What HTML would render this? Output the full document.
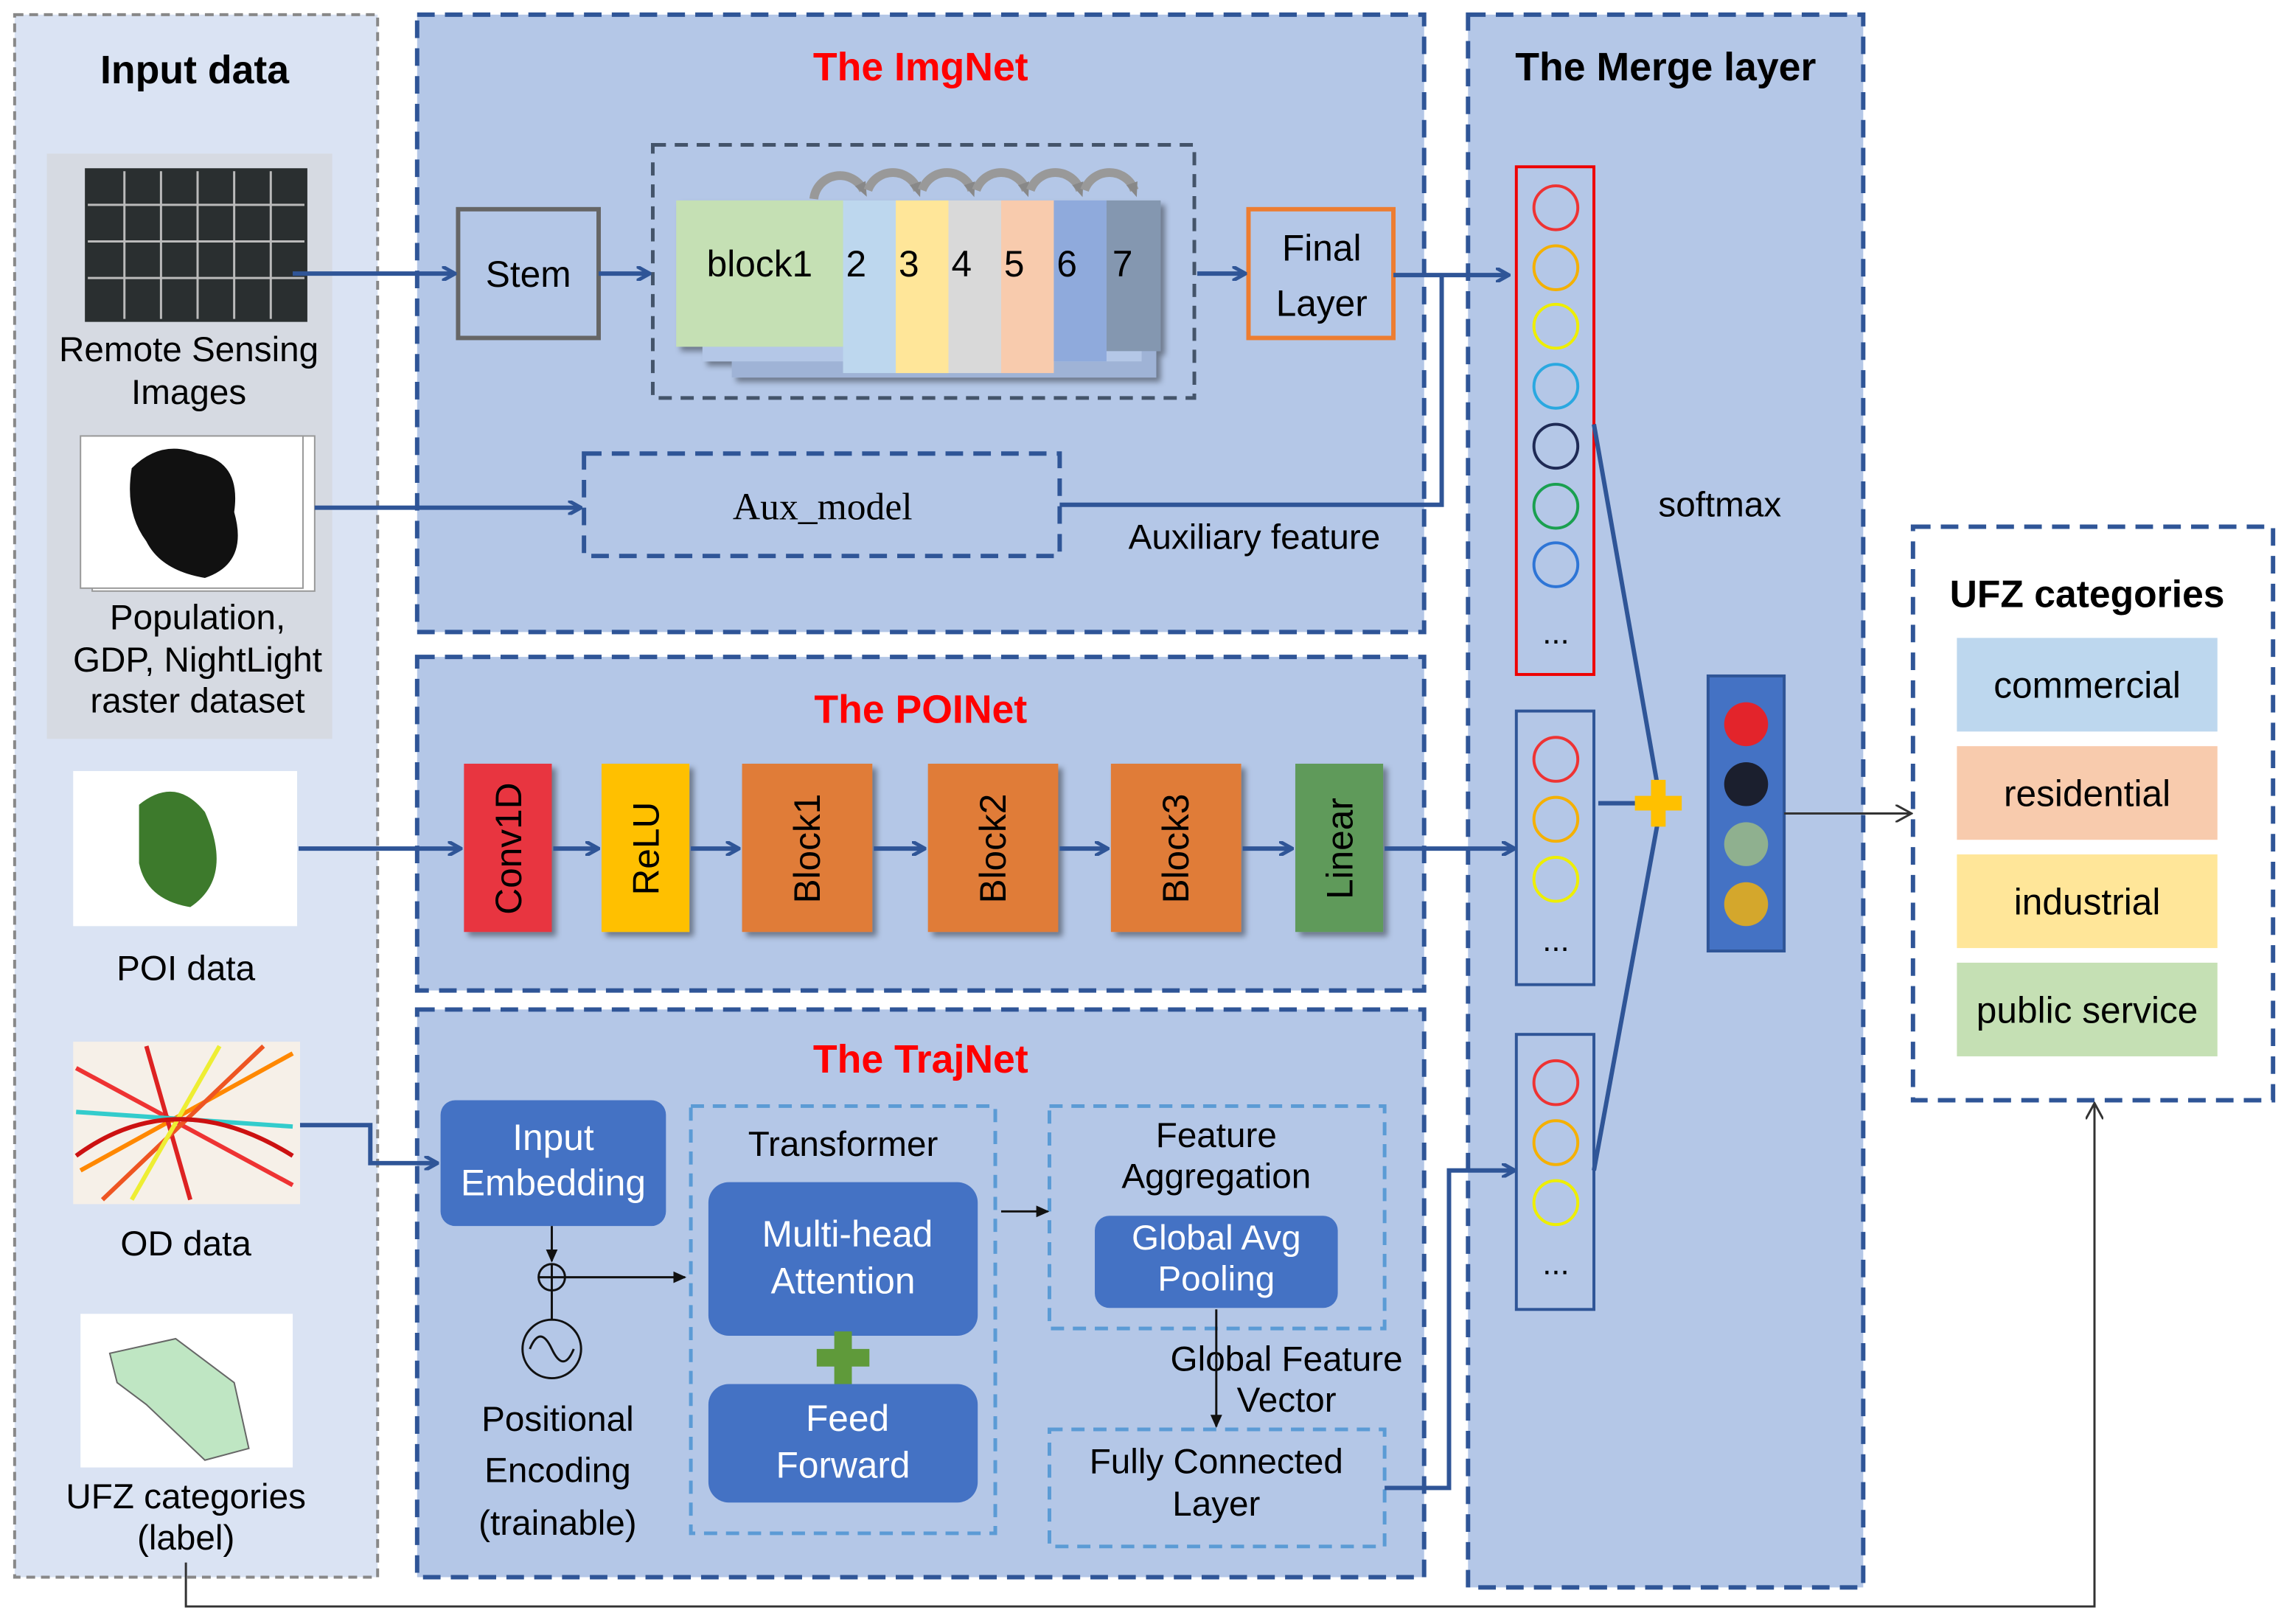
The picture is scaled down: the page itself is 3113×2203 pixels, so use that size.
<!DOCTYPE html>
<html><head><meta charset="utf-8"><style>html,body{margin:0;padding:0;background:#fff}svg{display:block}</style></head><body>
<svg width="3113" height="2203" viewBox="0 0 1568 1110" preserveAspectRatio="none" xmlns="http://www.w3.org/2000/svg" font-family="'Liberation Sans', sans-serif">
<defs>
<marker id="ab" markerWidth="10" markerHeight="10" refX="8" refY="5" orient="auto" markerUnits="userSpaceOnUse"><path d="M0,0 L9,5 L0,10" fill="none" stroke="#2f5597" stroke-width="2.5"/></marker>
<marker id="ak" markerWidth="10" markerHeight="10" refX="8" refY="5" orient="auto" markerUnits="userSpaceOnUse"><path d="M0,1 L9,5 L0,9 Z" fill="#111"/></marker>
<marker id="ao" markerWidth="12" markerHeight="12" refX="10" refY="6" orient="auto" markerUnits="userSpaceOnUse"><path d="M0,0 L11,6 L0,12" fill="none" stroke="#333" stroke-width="1.5"/></marker>
<marker id="ag" markerWidth="10" markerHeight="10" refX="5" refY="5" orient="auto" markerUnits="userSpaceOnUse"><path d="M0,1 L10,5 L0,9 Z" fill="#888"/></marker>
<filter id="sh"><feDropShadow dx="3" dy="3" stdDeviation="2" flood-color="#000" flood-opacity="0.4"/></filter>
</defs>
<rect width="1568" height="1110" fill="#fff"/>
<!-- Input data panel -->
<rect x="10" y="10" width="248" height="1068" fill="#dae3f3" stroke="#888" stroke-width="2" stroke-dasharray="6,4"/>
<text x="133" y="57" font-size="27" font-weight="bold" text-anchor="middle">Input data</text>
<rect x="32" y="105" width="195" height="400" fill="#d6dae2"/>
<rect x="58" y="115" width="152" height="105" fill="#2a2f30"/>
<g stroke="#bbb" stroke-width="1.5" fill="none"><path d="M60,140H208M60,165H208M60,190H208M85,117V218M110,117V218M135,117V218M160,117V218M185,117V218"/></g>
<text x="129" y="247" font-size="24" text-anchor="middle">Remote Sensing</text>
<text x="129" y="276" font-size="24" text-anchor="middle">Images</text>
<rect x="63" y="298" width="152" height="106" fill="#fff" stroke="#999"/>
<rect x="55" y="298" width="152" height="104" fill="#fff" stroke="#999"/>
<path d="M90,320 Q110,300 135,310 Q165,315 160,350 Q170,385 140,395 Q110,390 100,370 Q85,350 90,320Z" fill="#111"/>
<text x="135" y="430" font-size="24" text-anchor="middle">Population,</text>
<text x="135" y="459" font-size="24" text-anchor="middle">GDP, NightLight</text>
<text x="135" y="487" font-size="24" text-anchor="middle">raster dataset</text>
<rect x="50" y="527" width="153" height="106" fill="#fff"/>
<path d="M95,550 Q120,530 140,555 Q160,600 130,620 Q100,615 95,590Z" fill="#3d7a2c"/>
<text x="127" y="670" font-size="24" text-anchor="middle">POI data</text>
<rect x="50" y="712" width="155" height="111" fill="#f6f0e8"/>
<g stroke-width="3" fill="none"><path d="M52,730 L200,810" stroke="#e33"/><path d="M55,800 L200,720" stroke="#f80"/><path d="M100,715 L130,820" stroke="#d22"/><path d="M52,760 L200,770" stroke="#3cc"/><path d="M70,820 L180,715" stroke="#e52"/><path d="M150,715 L90,820" stroke="#ee3"/><path d="M52,790 Q120,740 200,790" stroke="#c11"/></g>
<text x="127" y="858" font-size="24" text-anchor="middle">OD data</text>
<rect x="55" y="898" width="145" height="105" fill="#fff"/>
<path d="M75,925 L120,915 L160,945 L170,990 L140,998 L100,960 L80,945Z" fill="#bfe6c3" stroke="#666"/>
<text x="127" y="1031" font-size="24" text-anchor="middle">UFZ categories</text>
<text x="127" y="1059" font-size="24" text-anchor="middle">(label)</text>

<!-- ImgNet -->
<rect x="285" y="10" width="688" height="422" fill="#b4c7e7" stroke="#2f5597" stroke-width="3" stroke-dasharray="12,7"/>
<text x="629" y="55" font-size="27" font-weight="bold" fill="#f00" text-anchor="middle">The ImgNet</text>
<rect x="313" y="143" width="96" height="88" fill="none" stroke="#666" stroke-width="3"/>
<text x="361" y="196" font-size="25" text-anchor="middle">Stem</text>
<rect x="446" y="99" width="370" height="173" fill="none" stroke="#44546a" stroke-width="2.5" stroke-dasharray="9,6"/>
<g filter="url(#sh)">
<rect x="500" y="148" width="290" height="110" fill="#9fb3d6"/>
<rect x="480" y="142" width="300" height="105" fill="#b4c7e7"/>
<rect x="576" y="137" width="36" height="118" fill="#bdd7ee"/>
<rect x="612" y="137" width="36" height="118" fill="#ffe699"/>
<rect x="648" y="137" width="36" height="118" fill="#d9d9d9"/>
<rect x="684" y="137" width="36" height="118" fill="#f8cbad"/>
<rect x="720" y="137" width="36" height="110" fill="#8faadc"/>
<rect x="756" y="137" width="37" height="103" fill="#8497b0"/>
<rect x="462" y="137" width="114" height="100" fill="#c5e0b4"/>
</g>
<text x="519" y="189" font-size="25" text-anchor="middle">block1</text>
<g font-size="25"><text x="578" y="189">2</text><text x="614" y="189">3</text><text x="650" y="189">4</text><text x="686" y="189">5</text><text x="722" y="189">6</text><text x="760" y="189">7</text></g>
<g fill="none" stroke="#999" stroke-width="6" marker-end="url(#ag)"><path d="M556,136 A18,18 0 0 1 590,130"/><path d="M593,130 A18,18 0 0 1 627,130"/><path d="M630,130 A18,18 0 0 1 664,130"/><path d="M667,130 A18,18 0 0 1 701,130"/><path d="M704,130 A18,18 0 0 1 738,130"/><path d="M741,130 A18,18 0 0 1 775,130"/></g>
<rect x="853" y="143" width="99" height="88" fill="none" stroke="#ed7d31" stroke-width="3"/>
<text x="903" y="178" font-size="25" text-anchor="middle">Final</text>
<text x="903" y="216" font-size="25" text-anchor="middle">Layer</text>
<rect x="399" y="310" width="325" height="70" fill="none" stroke="#2f5597" stroke-width="3" stroke-dasharray="12,7"/>
<text x="562" y="355" font-size="26" font-family="'Liberation Serif', serif" text-anchor="middle">Aux_model</text>
<text x="857" y="375" font-size="24" text-anchor="middle">Auxiliary feature</text>
<g stroke="#2f5597" stroke-width="3" fill="none">
<path d="M200,187 H310" marker-end="url(#ab)"/>
<path d="M409,187 H443" marker-end="url(#ab)"/>
<path d="M818,187 H850" marker-end="url(#ab)"/>
<path d="M215,347 H396" marker-end="url(#ab)"/>
<path d="M724,345 H985 V188"/>
</g>

<!-- POINet -->
<rect x="285" y="449" width="688" height="228" fill="#b4c7e7" stroke="#2f5597" stroke-width="3" stroke-dasharray="12,7"/>
<text x="629" y="494" font-size="27" font-weight="bold" fill="#f00" text-anchor="middle">The POINet</text>
<g filter="url(#sh)">
<rect x="317" y="522" width="60" height="115" fill="#e8363f"/>
<rect x="411" y="522" width="60" height="115" fill="#ffc000"/>
<rect x="507" y="522" width="89" height="115" fill="#e07b39"/>
<rect x="634" y="522" width="89" height="115" fill="#e07b39"/>
<rect x="759" y="522" width="89" height="115" fill="#e07b39"/>
<rect x="885" y="522" width="60" height="115" fill="#5f9a5a"/>
</g>
<g font-size="25" text-anchor="middle">
<text transform="translate(356,580) rotate(-90)">Conv1D</text>
<text transform="translate(450,580) rotate(-90)">ReLU</text>
<text transform="translate(560,580) rotate(-90)">Block1</text>
<text transform="translate(687,580) rotate(-90)">Block2</text>
<text transform="translate(812,580) rotate(-90)">Block3</text>
<text transform="translate(924,580) rotate(-90)">Linear</text>
</g>
<g stroke="#2f5597" stroke-width="3" fill="none">
<path d="M204,580 H314" marker-end="url(#ab)"/>
<path d="M378,580 H408" marker-end="url(#ab)"/>
<path d="M472,580 H504" marker-end="url(#ab)"/>
<path d="M597,580 H631" marker-end="url(#ab)"/>
<path d="M724,580 H756" marker-end="url(#ab)"/>
<path d="M849,580 H882" marker-end="url(#ab)"/>
</g>

<!-- TrajNet -->
<rect x="285" y="690" width="688" height="388" fill="#b4c7e7" stroke="#2f5597" stroke-width="3" stroke-dasharray="12,7"/>
<text x="629" y="733" font-size="27" font-weight="bold" fill="#f00" text-anchor="middle">The TrajNet</text>
<rect x="301" y="752" width="154" height="86" rx="10" fill="#4472c4"/>
<text x="378" y="786" font-size="25" fill="#fff" text-anchor="middle">Input</text>
<text x="378" y="817" font-size="25" fill="#fff" text-anchor="middle">Embedding</text>
<rect x="472" y="756" width="208" height="292" fill="none" stroke="#5b9bd5" stroke-width="2.5" stroke-dasharray="9,6"/>
<text x="576" y="790" font-size="24" text-anchor="middle">Transformer</text>
<rect x="484" y="808" width="184" height="105" rx="14" fill="#4472c4"/>
<text x="579" y="852" font-size="25" fill="#fff" text-anchor="middle">Multi-head</text>
<text x="576" y="884" font-size="25" fill="#fff" text-anchor="middle">Attention</text>
<path d="M570,910 h12 v12 h12 v12 h-12 v12 h-12 v-12 h-12 v-12 h12Z" fill="#5f9a3a"/>
<rect x="484" y="946" width="184" height="81" rx="14" fill="#4472c4"/>
<text x="579" y="978" font-size="25" fill="#fff" text-anchor="middle">Feed</text>
<text x="576" y="1010" font-size="25" fill="#fff" text-anchor="middle">Forward</text>
<rect x="717" y="756" width="229" height="152" fill="none" stroke="#5b9bd5" stroke-width="2.5" stroke-dasharray="9,6"/>
<text x="831" y="784" font-size="24" text-anchor="middle">Feature</text>
<text x="831" y="812" font-size="24" text-anchor="middle">Aggregation</text>
<rect x="748" y="831" width="166" height="63" rx="10" fill="#4472c4"/>
<text x="831" y="854" font-size="24" fill="#fff" text-anchor="middle">Global Avg</text>
<text x="831" y="882" font-size="24" fill="#fff" text-anchor="middle">Pooling</text>
<text x="879" y="937" font-size="24" text-anchor="middle">Global Feature</text>
<text x="879" y="965" font-size="24" text-anchor="middle">Vector</text>
<rect x="717" y="977" width="229" height="80" fill="none" stroke="#5b9bd5" stroke-width="2.5" stroke-dasharray="9,6"/>
<text x="831" y="1007" font-size="24" text-anchor="middle">Fully Connected</text>
<text x="831" y="1036" font-size="24" text-anchor="middle">Layer</text>
<circle cx="377" cy="873" r="9" fill="none" stroke="#111" stroke-width="1.5"/>
<path d="M368,873 H386 M377,864 V882" stroke="#111" stroke-width="1.5"/>
<circle cx="377" cy="922" r="20" fill="none" stroke="#111" stroke-width="1.5"/>
<path d="M362,922 Q369,905 377,922 T392,922" fill="none" stroke="#111" stroke-width="1.5"/>
<text x="381" y="978" font-size="24" text-anchor="middle">Positional</text>
<text x="381" y="1013" font-size="24" text-anchor="middle">Encoding</text>
<text x="381" y="1049" font-size="24" text-anchor="middle">(trainable)</text>
<g stroke="#111" stroke-width="1.5" fill="none">
<path d="M377,838 V862" marker-end="url(#ak)"/>
<path d="M377,902 V882"/>
<path d="M386,873 H468" marker-end="url(#ak)"/>
<path d="M684,828 H716" marker-end="url(#ak)"/>
<path d="M831,895 V975" marker-end="url(#ak)"/>
</g>
<g stroke="#2f5597" stroke-width="3" fill="none">
<path d="M205,769 H253 V795 H298" marker-end="url(#ab)"/>
</g>

<!-- Merge layer -->
<rect x="1003" y="10" width="270" height="1075" fill="#b4c7e7" stroke="#2f5597" stroke-width="3" stroke-dasharray="12,7"/>
<g stroke="#2f5597" stroke-width="3" fill="none">
<path d="M952,188 H1030" marker-end="url(#ab)"/>
<path d="M946,580 H1034" marker-end="url(#ab)"/>
<path d="M946,1017 H990 V800 H1034" marker-end="url(#ab)"/>
</g>
<text x="1138" y="55" font-size="27" font-weight="bold" text-anchor="middle">The Merge layer</text>
<rect x="1036" y="114" width="53" height="347" fill="none" stroke="#e00" stroke-width="2"/>
<g fill="none" stroke-width="2">
<circle cx="1063" cy="142" r="15" stroke="#e33"/><circle cx="1063" cy="183" r="15" stroke="#f4b000"/><circle cx="1063" cy="223" r="15" stroke="#ee0"/><circle cx="1063" cy="264" r="15" stroke="#2aa8e0"/><circle cx="1063" cy="305" r="15" stroke="#1f2a55"/><circle cx="1063" cy="346" r="15" stroke="#1aa050"/><circle cx="1063" cy="386" r="15" stroke="#2e75d6"/>
</g>
<text x="1063" y="440" font-size="22" text-anchor="middle">...</text>
<rect x="1036" y="486" width="53" height="187" fill="none" stroke="#2f5597" stroke-width="2"/>
<g fill="none" stroke-width="2"><circle cx="1063" cy="519" r="15" stroke="#e33"/><circle cx="1063" cy="560" r="15" stroke="#f4b000"/><circle cx="1063" cy="601" r="15" stroke="#ee0"/></g>
<text x="1063" y="650" font-size="22" text-anchor="middle">...</text>
<rect x="1036" y="707" width="53" height="188" fill="none" stroke="#2f5597" stroke-width="2"/>
<g fill="none" stroke-width="2"><circle cx="1063" cy="740" r="15" stroke="#e33"/><circle cx="1063" cy="781" r="15" stroke="#f4b000"/><circle cx="1063" cy="822" r="15" stroke="#ee0"/></g>
<text x="1063" y="871" font-size="22" text-anchor="middle">...</text>
<text x="1175" y="353" font-size="24" text-anchor="middle">softmax</text>
<g stroke="#2f5597" stroke-width="3" fill="none">
<path d="M1089,290 L1133,540"/><path d="M1089,800 L1133,560"/><path d="M1092,549 H1120"/>
</g>
<path d="M1128,533 h10 v11 h11 v10 h-11 v11 h-10 v-11 h-11 v-10 h11Z" fill="#ffc000"/>
<rect x="1167" y="462" width="52" height="188" fill="#4472c4" stroke="#2f5597" stroke-width="2"/>
<circle cx="1193" cy="495" r="15" fill="#e3242b"/><circle cx="1193" cy="536" r="15" fill="#1b1f2e"/><circle cx="1193" cy="577" r="15" fill="#8fb08f"/><circle cx="1193" cy="618" r="15" fill="#d4a72c"/>
<path d="M1219,556 H1305" stroke="#333" stroke-width="1.5" fill="none" marker-end="url(#ao)"/>

<!-- UFZ categories -->
<rect x="1307" y="360" width="246" height="392" fill="#fff" stroke="#2f5597" stroke-width="3" stroke-dasharray="12,7"/>
<text x="1426" y="415" font-size="26" font-weight="bold" text-anchor="middle">UFZ categories</text>
<rect x="1337" y="436" width="178" height="64" fill="#bdd7ee"/>
<rect x="1337" y="510" width="178" height="64" fill="#f8cbad"/>
<rect x="1337" y="584" width="178" height="64" fill="#ffe699"/>
<rect x="1337" y="658" width="178" height="64" fill="#c5e0b4"/>
<g font-size="25" text-anchor="middle"><text x="1426" y="477">commercial</text><text x="1426" y="551">residential</text><text x="1426" y="625">industrial</text><text x="1426" y="699">public service</text></g>
<path d="M127,1068 V1098 H1431 V755" stroke="#333" stroke-width="1.5" fill="none" marker-end="url(#ao)"/>
</svg>
</body></html>
